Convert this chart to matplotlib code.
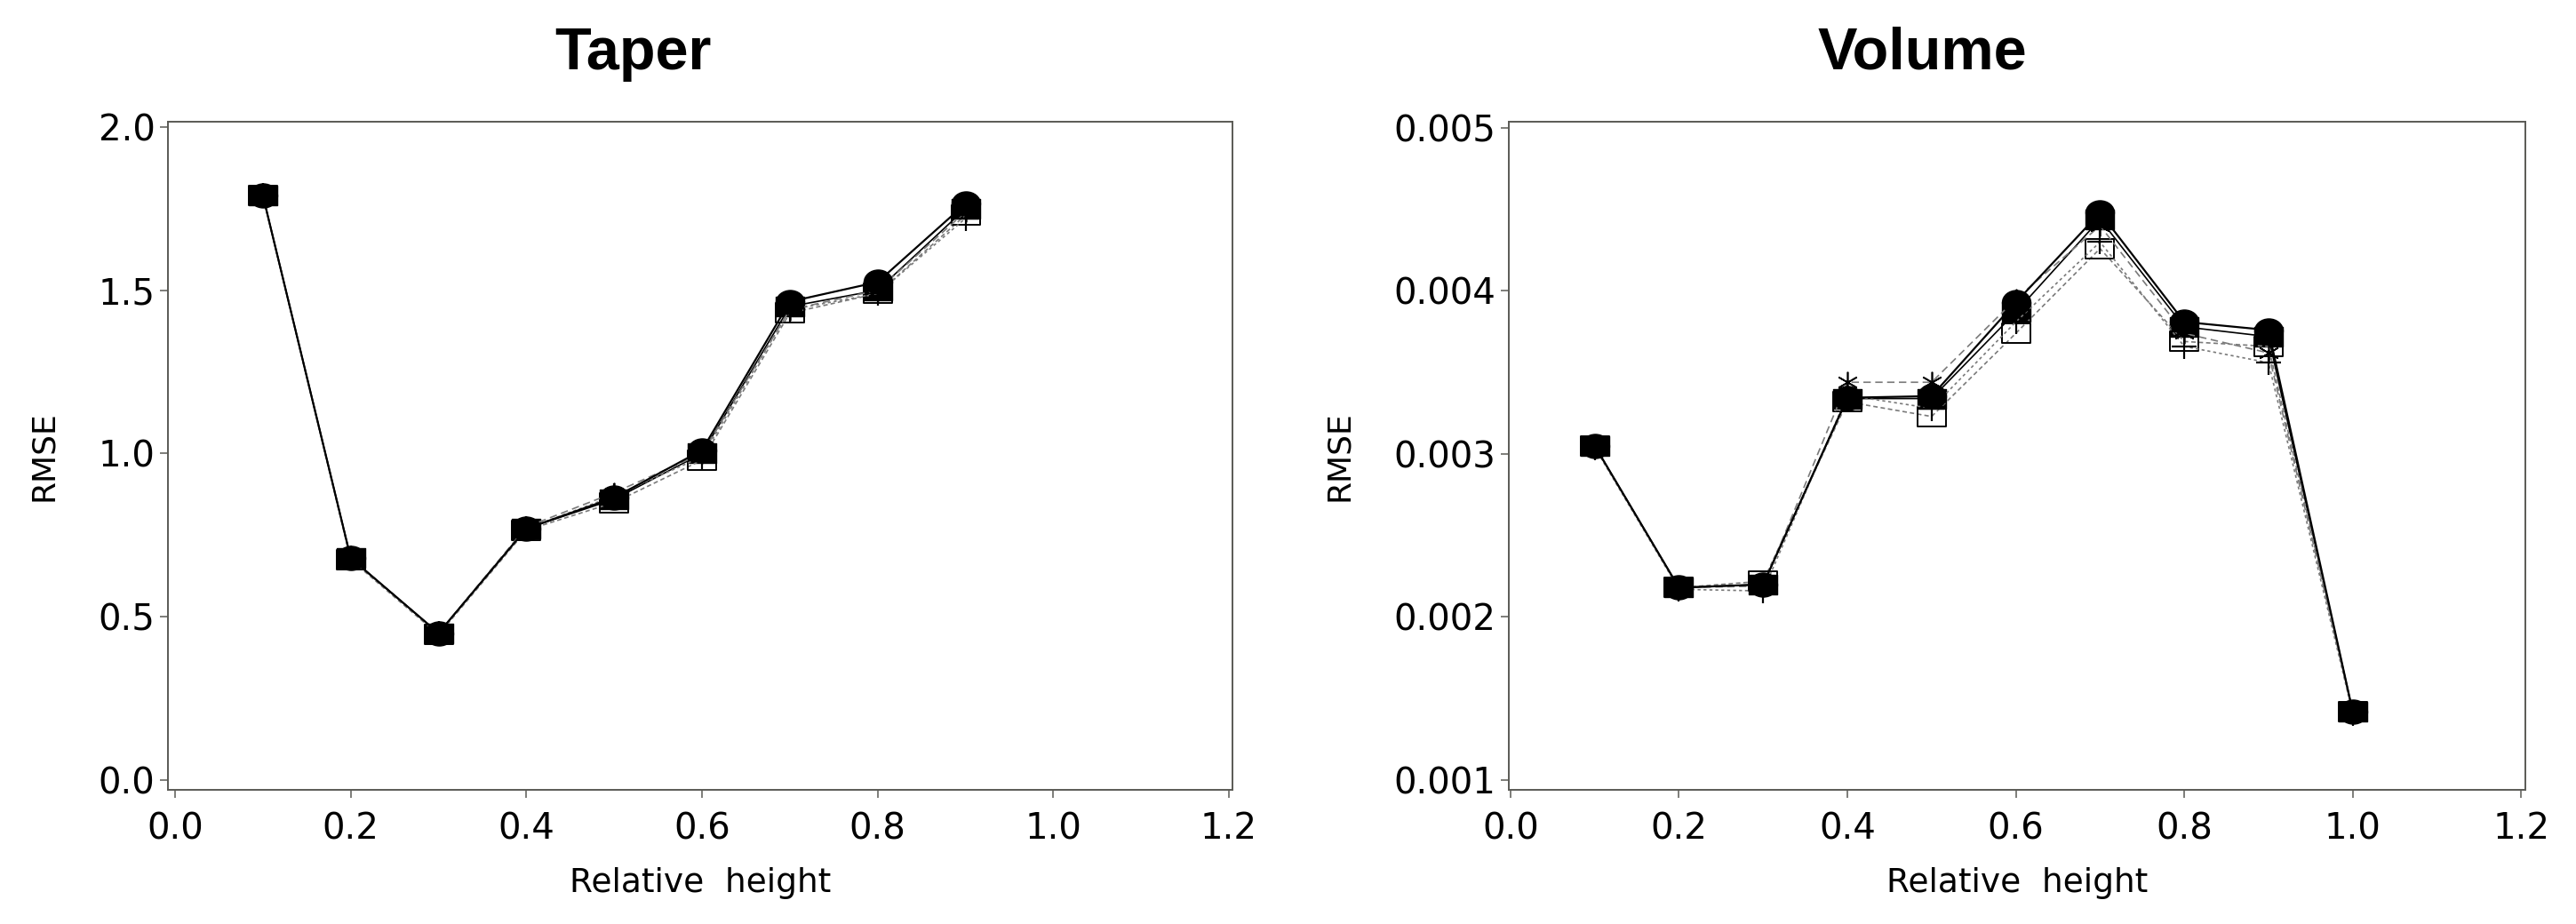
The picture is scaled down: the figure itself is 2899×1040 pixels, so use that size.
import matplotlib
matplotlib.use("Agg")
import matplotlib.pyplot as plt
from matplotlib.path import Path
from matplotlib.transforms import Affine2D

# relative heights
heights_taper = [0.1, 0.2, 0.3, 0.4, 0.5, 0.6, 0.7, 0.8, 0.9]
heights_volume = [0.1, 0.2, 0.3, 0.4, 0.5, 0.6, 0.7, 0.8, 0.9, 1.0]

# Taper RMSE, one list per model
taper_dot = [1.79, 0.68, 0.45, 0.77, 0.865, 1.01, 1.465, 1.525, 1.765]
taper_fsquare = [1.79, 0.68, 0.45, 0.77, 0.86, 1.00, 1.45, 1.50, 1.75]
taper_square = [1.79, 0.675, 0.445, 0.765, 0.85, 0.98, 1.43, 1.49, 1.73]
taper_plus = [1.79, 0.68, 0.45, 0.77, 0.87, 0.99, 1.44, 1.49, 1.72]
taper_star = [1.79, 0.68, 0.45, 0.775, 0.88, 1.00, 1.44, 1.50, 1.74]

# Volume RMSE
volume_dot = [0.00305, 0.00218, 0.00220, 0.003345, 0.003355, 0.00393, 0.00448, 0.00381, 0.00376, 0.00142]
volume_fsquare = [0.00305, 0.00218, 0.00220, 0.00334, 0.00334, 0.00387, 0.00444, 0.00378, 0.00372, 0.00142]
volume_square = [0.00305, 0.00218, 0.00222, 0.00332, 0.00323, 0.00374, 0.00426, 0.00369, 0.00366, 0.00142]
volume_plus = [0.00304, 0.00217, 0.00216, 0.00336, 0.00328, 0.00381, 0.00430, 0.00366, 0.00356, 0.00141]
volume_star = [0.00305, 0.00218, 0.00219, 0.00344, 0.00344, 0.00395, 0.00440, 0.00374, 0.00362, 0.00142]

x_ticks = [0.0, 0.2, 0.4, 0.6, 0.8, 1.0, 1.2]
taper_ticks = [0.0, 0.5, 1.0, 1.5, 2.0]
volume_ticks = [0.001, 0.002, 0.003, 0.004, 0.005]

plt.rcParams["font.family"] = ["DejaVu Sans"]

# the source picture is stretched sideways, so the markers are too
RECT = Path([(-0.7, -0.5), (0.7, -0.5), (0.7, 0.5), (-0.7, 0.5), (-0.7, -0.5)],
            [Path.MOVETO, Path.LINETO, Path.LINETO, Path.LINETO, Path.CLOSEPOLY])
DOT = Path.unit_circle().transformed(Affine2D().scale(1.18, 1.0))

SPINE = "#5a5a55"
GRAY = "#7a7a7a"


def _draw(ax, x, fsquare, square, plus, star, dot):
    ax.plot(x, fsquare, color="black", lw=1.2, marker=RECT, ms=23, mfc="black", mec="black", zorder=3)
    ax.plot(x, square, color=GRAY, lw=1.2, ls=(0, (3, 2)), marker=RECT, ms=23, mfc="none",
            mec="black", mew=1.4, zorder=4)
    ax.plot(x, plus, color=GRAY, lw=1.2, ls=(0, (2, 2)), marker="+", ms=20, mec="black", mew=1.6, zorder=5)
    ax.plot(x, star, color=GRAY, lw=1.2, ls=(0, (5, 3)), marker=(6, 2, 0), ms=17, mec="black", mew=1.2,
            zorder=6)
    ax.plot(x, dot, color="black", lw=1.6, marker=DOT, ms=23, mfc="black", mec="black", zorder=7)


def _style(ax, yticks, labels, ylim, xlim):
    ax.set_xlim(*xlim)
    ax.set_ylim(*ylim)
    ax.set_xticks(x_ticks)
    ax.set_xticklabels([f"{v:.1f}" for v in x_ticks])
    ax.set_yticks(yticks)
    ax.set_yticklabels(labels)
    for side in ax.spines.values():
        side.set_color(SPINE)
        side.set_linewidth(1.4)
    ax.tick_params(axis="both", direction="out", length=6.5, width=1.1, color=SPINE, labelsize=29,
                   labelcolor="black")
    ax.tick_params(axis="x", pad=11)
    ax.tick_params(axis="y", pad=4)
    ax.set_xlabel("Relative  height", fontsize=27, labelpad=16)
    ax.set_ylabel("RMSE", fontsize=26, labelpad=32)


fig = plt.figure(figsize=(28.99, 10.40), dpi=100)
ax_taper = fig.add_axes([189 / 2899, 1 - 889 / 1040, 1198 / 2899, 752 / 1040])
ax_volume = fig.add_axes([1698 / 2899, 1 - 889 / 1040, 1144 / 2899, 752 / 1040])

_draw(ax_taper, heights_taper, taper_fsquare, taper_square, taper_plus, taper_star, taper_dot)
_style(ax_taper, taper_ticks, [f"{v:.1f}" for v in taper_ticks], (-0.030, 2.016), (-0.0081, 1.204))

_draw(ax_volume, heights_volume, volume_fsquare, volume_square, volume_plus, volume_star, volume_dot)
_style(ax_volume, volume_ticks, [f"{v:.3f}" for v in volume_ticks], (0.00094, 0.005038), (-0.002, 1.205))

title_font = dict(fontsize=48, fontweight="bold", family=["Liberation Sans", "DejaVu Sans"],
                  ha="center", va="baseline")
fig.text(712 / 2899, 1 - 78 / 1040, "Taper", **title_font)
fig.text(2163 / 2899, 1 - 78 / 1040, "Volume", **title_font)

fig.savefig("out.png", dpi=100, facecolor="white")
